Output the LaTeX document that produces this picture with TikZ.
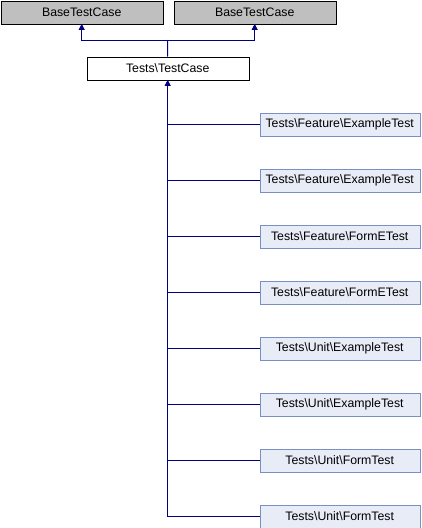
\documentclass[tikz,border=0pt]{standalone}
\usepackage{fontspec}
\setmainfont{Liberation Sans}
\usetikzlibrary{arrows.meta}
\definecolor{edge}{HTML}{000080}
\definecolor{childfill}{HTML}{E8ECF6}
\definecolor{childdraw}{HTML}{7A8FC4}
\definecolor{basefill}{HTML}{BFBFBF}
\tikzset{
  cls/.style={draw, minimum height=23pt, inner sep=0pt, font=\fontsize{12.3}{14}\selectfont, anchor=north west},
  basebox/.style={cls, fill=basefill, draw=black, minimum width=162pt},
  mainbox/.style={cls, fill=white, draw=black, minimum width=162pt},
  childbox/.style={cls, fill=childfill, draw=childdraw, minimum width=160pt},
  link/.style={draw=edge, line width=1pt},
  inh/.style={link, -{Triangle[length=6pt,width=6pt]}},
}
\begin{document}
\begin{tikzpicture}[x=1pt,y=-1pt]
\useasboundingbox (0,0) rectangle (422,528);
\node[basebox] (b1) at (0.5,0.5) {BaseTestCase};
\node[basebox] (b2) at (173.5,0.5) {BaseTestCase};
\node[mainbox] (tc) at (86.5,56.5) {Tests\textbackslash TestCase};
\coordinate (j) at (167.5,40.5);
\draw[link] (tc.north) -- (j);
\draw[inh] (j) -| (b1.south);
\draw[inh] (j) -| (b2.south);
\node[childbox] (c1) at (259.5,112.5) {Tests\textbackslash Feature\textbackslash ExampleTest};
\node[childbox] (c2) at (259.5,168.5) {Tests\textbackslash Feature\textbackslash ExampleTest};
\node[childbox] (c3) at (259.5,224.5) {Tests\textbackslash Feature\textbackslash FormETest};
\node[childbox] (c4) at (259.5,280.5) {Tests\textbackslash Feature\textbackslash FormETest};
\node[childbox] (c5) at (259.5,336.5) {Tests\textbackslash Unit\textbackslash ExampleTest};
\node[childbox] (c6) at (259.5,392.5) {Tests\textbackslash Unit\textbackslash ExampleTest};
\node[childbox] (c7) at (259.5,448.5) {Tests\textbackslash Unit\textbackslash FormTest};
\node[childbox] (c8) at (259.5,504.5) {Tests\textbackslash Unit\textbackslash FormTest};
\coordinate (v) at (167.5,80);
\foreach \c in {c1,c2,c3,c4,c5,c6,c7}
  \draw[link] (\c.west) -- (v |- \c.west);
\draw[inh] (c8.west) -| (tc.south);
\end{tikzpicture}
\end{document}
